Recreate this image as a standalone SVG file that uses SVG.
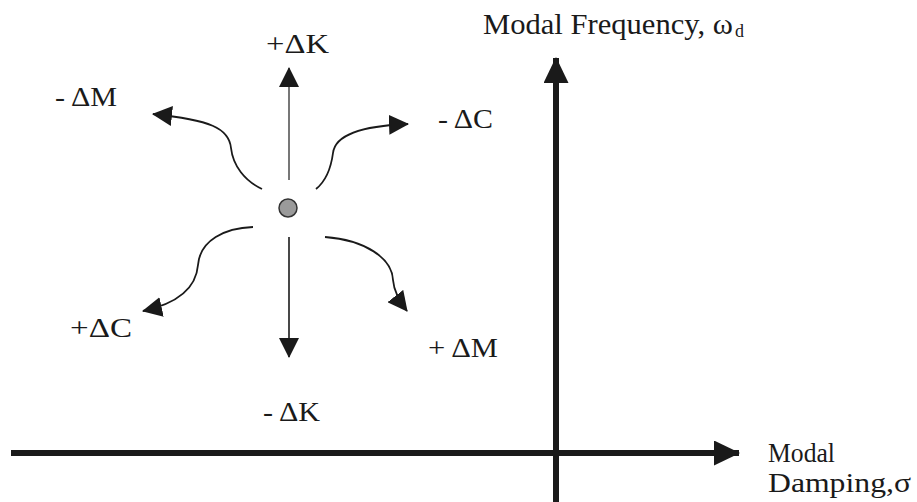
<svg xmlns="http://www.w3.org/2000/svg" width="917" height="502" viewBox="0 0 917 502">
<style>
  text { font-family: "Liberation Serif", "Times New Roman", serif; fill: #1a1a1a; }
  .lbl { font-size: 27px; }
  .ax { font-size: 27px; }
  .title { font-size: 29px; }
  .curve { fill: none; stroke: #1a1a1a; stroke-width: 1.8; }
  .axis { fill: none; stroke: #1a1a1a; stroke-width: 6; }
</style>
<defs>
  <marker id="ah" markerUnits="userSpaceOnUse" markerWidth="20" markerHeight="20" refX="19" refY="10" orient="auto" viewBox="0 0 20 20">
    <path d="M0,0 L20,10 L0,20 Z" fill="#1a1a1a"/>
  </marker>
  <marker id="axh" markerUnits="userSpaceOnUse" markerWidth="26" markerHeight="25" refX="25" refY="12.5" orient="auto" viewBox="0 0 26 25">
    <path d="M0,0 L26,12.5 L0,25 Z" fill="#1a1a1a"/>
  </marker>
</defs>

<g id="connectors">
  <path id="arrow-plusK" d="M289,180 L289,68" fill="none" stroke="#555" stroke-width="1.6" marker-end="url(#ah)"/>
  <path id="arrow-minusK" d="M289,237 L289,357" fill="none" stroke="#1a1a1a" stroke-width="1.6" marker-end="url(#ah)"/>
  <path id="arrow-minusM" class="curve" d="M262,189 C245,181 233,166 231,148 C229,128 210,120 153,114" marker-end="url(#ah)"/>
  <path id="arrow-minusC" class="curve" d="M316,189 C326,181 331,168 333,153 C335,135 360,126 408,124" marker-end="url(#ah)"/>
  <path id="arrow-plusC" class="curve" d="M253,227 C225,228 200,240 198,265 C196,290 175,304 143,311" marker-end="url(#ah)"/>
  <path id="arrow-plusM" class="curve" d="M325,237 C365,240 392,258 393,280 C394,292 400,302 407,311" marker-end="url(#ah)"/>
</g>

<g id="axes">
  <path id="axis-frequency" class="axis" d="M556,502 L556,58" marker-end="url(#axh)"/>
  <path id="axis-damping" class="axis" d="M11,453 L739,453" marker-end="url(#axh)"/>
</g>

<g id="pole">
  <circle cx="288" cy="208" r="9" fill="#9a9a9a" stroke="#333" stroke-width="1.5"/>
</g>

<g id="labels">
  <text id="t-plusK" class="lbl" x="266" y="53" textLength="63" lengthAdjust="spacingAndGlyphs">+ΔK</text>
  <text id="t-minusM" class="lbl" x="55" y="106" textLength="62" lengthAdjust="spacingAndGlyphs">- ΔM</text>
  <text id="t-minusC" class="lbl" x="438" y="128" textLength="55" lengthAdjust="spacingAndGlyphs">- ΔC</text>
  <text id="t-plusC" class="lbl" x="70" y="337" textLength="62" lengthAdjust="spacingAndGlyphs">+ΔC</text>
  <text id="t-plusM" class="lbl" x="428" y="357" textLength="70" lengthAdjust="spacingAndGlyphs">+ ΔM</text>
  <text id="t-minusK" class="lbl" x="263" y="421" textLength="57" lengthAdjust="spacingAndGlyphs">- ΔK</text>
  <text id="t-freq" class="title" x="483" y="34"><tspan textLength="250" lengthAdjust="spacingAndGlyphs">Modal Frequency, ω</tspan><tspan x="735" dy="3" font-size="18">d</tspan></text>
  <text id="t-damp1" class="ax" x="768" y="462" textLength="67" lengthAdjust="spacingAndGlyphs">Modal</text>
  <text id="t-damp2" class="ax" x="768" y="492" textLength="143" lengthAdjust="spacingAndGlyphs">Damping,σ</text>
</g>
</svg>
